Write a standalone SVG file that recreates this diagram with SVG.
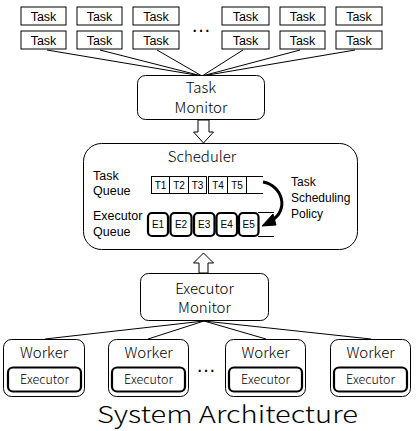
<svg xmlns="http://www.w3.org/2000/svg" width="416" height="431" viewBox="0 0 416 431">
<style>
.box{fill:#fff;stroke:#000;stroke-width:1}
.rbox{fill:#fff;stroke:#000;stroke-width:1}
.thick{fill:#fff;stroke:#000;stroke-width:2.2}
.ln{stroke:#000;stroke-width:1;fill:none}
.t{font-family:"Liberation Sans",Arial,sans-serif;font-size:12.5px;text-anchor:middle;fill:#000}
.p{font-family:"Liberation Sans",Arial,sans-serif;font-size:12px;fill:#000}
.q{font-family:"Liberation Sans",Arial,sans-serif;font-size:12.5px;fill:#000}
.dots{font-family:"Liberation Sans",Arial,sans-serif;font-size:20px;text-anchor:middle;fill:#000}
.s{font-family:"Liberation Sans",Arial,sans-serif;font-size:10px;text-anchor:middle;fill:#000}
.y{font-family:"Noto Sans CJK SC","Noto Sans",sans-serif;font-weight:300;fill:#000}
</style>
<g id="connectors">
<line class="ln" x1="47" y1="50" x2="202" y2="76"/>
<line class="ln" x1="100" y1="50" x2="202" y2="76"/>
<line class="ln" x1="157" y1="50" x2="202" y2="76"/>
<line class="ln" x1="243" y1="50" x2="202" y2="76"/>
<line class="ln" x1="300" y1="50" x2="202" y2="76"/>
<line class="ln" x1="355" y1="50" x2="202" y2="76"/>
<line class="ln" x1="204" y1="321" x2="45" y2="339"/>
<line class="ln" x1="204" y1="321" x2="148" y2="339"/>
<line class="ln" x1="204" y1="321" x2="266" y2="339"/>
<line class="ln" x1="204" y1="321" x2="371" y2="339"/>
<path class="ln" d="M198,120 V132 H193.5 L203.5,143 L213.5,132 H209 V120 Z" fill="#fff"/>
<path class="ln" d="M199,273 V263 H193.5 L203.5,253 L213.5,263 H208 V273 Z" fill="#fff"/>
</g>
<g id="tasks">
<rect class="box" x="21" y="7" width="45" height="18"/><text class="t" x="43.5" y="21">Task</text>
<rect class="box" x="77" y="7" width="45" height="18"/><text class="t" x="99.5" y="21">Task</text>
<rect class="box" x="133" y="7" width="46" height="18"/><text class="t" x="156" y="21">Task</text>
<rect class="box" x="222" y="7" width="47" height="18"/><text class="t" x="245.5" y="21">Task</text>
<rect class="box" x="280" y="7" width="45" height="18"/><text class="t" x="302.5" y="21">Task</text>
<rect class="box" x="336" y="7" width="46" height="18"/><text class="t" x="359" y="21">Task</text>
<rect class="box" x="21" y="31" width="45" height="18"/><text class="t" x="43.5" y="45">Task</text>
<rect class="box" x="77" y="31" width="45" height="18"/><text class="t" x="99.5" y="45">Task</text>
<rect class="box" x="133" y="31" width="46" height="18"/><text class="t" x="156" y="45">Task</text>
<rect class="box" x="222" y="31" width="47" height="18"/><text class="t" x="245.5" y="45">Task</text>
<rect class="box" x="280" y="31" width="45" height="18"/><text class="t" x="302.5" y="45">Task</text>
<rect class="box" x="336" y="31" width="46" height="18"/><text class="t" x="359" y="45">Task</text>
<text class="dots" x="201" y="32">…</text>
</g>
<g id="task-monitor">
<rect class="rbox" x="137.5" y="75.5" width="127" height="44" rx="8"/>
<text class="y" font-size="15" text-anchor="middle"><tspan x="201" y="93">Task</tspan><tspan x="201" y="113">Monitor</tspan></text>
</g>
<g id="scheduler">
<rect class="rbox" x="83.5" y="143.5" width="274" height="106" rx="18"/>
<text class="y" x="202" y="162" font-size="15" text-anchor="middle">Scheduler</text>
<text class="q"><tspan x="93" y="180">Task</tspan><tspan x="93" y="195">Queue</tspan></text>
<text class="q"><tspan x="93" y="220">Executor</tspan><tspan x="93" y="236">Queue</tspan></text>
<g id="task-queue">
<rect class="box" x="151.5" y="176.5" width="18" height="17"/><text class="s" x="160.5" y="189">T1</text>
<rect class="box" x="169.5" y="176.5" width="19" height="17"/><text class="s" x="179" y="189">T2</text>
<rect class="box" x="188.5" y="176.5" width="18" height="17"/><text class="s" x="197.5" y="189">T3</text>
<rect class="box" x="208.5" y="176.5" width="19" height="17"/><text class="s" x="218" y="189">T4</text>
<rect class="box" x="227.5" y="176.5" width="19" height="17"/><text class="s" x="237" y="189">T5</text>
<line class="ln" x1="246.5" y1="176.5" x2="263" y2="176.5"/>
<line class="ln" x1="246.5" y1="193.5" x2="263" y2="193.5"/>
</g>
<g id="executor-queue">
<rect class="thick" x="148" y="213" width="20" height="23" rx="4"/><text class="s" x="158" y="228">E1</text>
<rect class="thick" x="170.5" y="213" width="21" height="23" rx="4"/><text class="s" x="181" y="228">E2</text>
<rect class="thick" x="194" y="213" width="20.5" height="23" rx="4"/><text class="s" x="204.2" y="228">E3</text>
<rect class="thick" x="216.5" y="213" width="20.5" height="23" rx="4"/><text class="s" x="226.7" y="228">E4</text>
<rect class="thick" x="239" y="213" width="19.5" height="23" rx="4"/><text class="s" x="248.7" y="228">E5</text>
<line class="ln" x1="258" y1="212.5" x2="274" y2="212.5"/>
<line class="ln" x1="258" y1="236.5" x2="274" y2="236.5"/>
</g>
<path d="M263,182 C282,185 290,210 271,221" fill="none" stroke="#000" stroke-width="3"/>
<path d="M262,226 L273,214 L276,225 Z" fill="#000" stroke="#000" stroke-width="1"/>
<text class="p"><tspan x="291" y="186">Task</tspan><tspan x="291" y="202">Scheduling</tspan><tspan x="291" y="218">Policy</tspan></text>
</g>
<g id="executor-monitor">
<rect class="rbox" x="140.5" y="273.5" width="128" height="47" rx="8"/>
<text class="y" font-size="15" text-anchor="middle"><tspan x="204.5" y="294">Executor</tspan><tspan x="204.5" y="313">Monitor</tspan></text>
</g>
<g id="worker1">
<rect class="rbox" x="3.5" y="339.5" width="81" height="57" rx="8"/>
<text class="y" x="44" y="358" font-size="15" text-anchor="middle">Worker</text>
<rect class="thick" x="8" y="367.5" width="73" height="24" rx="5"/>
<text class="y" x="44.5" y="384" font-size="12.5" text-anchor="middle">Executor</text>
</g>
<g id="worker2">
<rect class="rbox" x="108.5" y="339.5" width="80" height="57" rx="8"/>
<text class="y" x="148.5" y="358" font-size="15" text-anchor="middle">Worker</text>
<rect class="thick" x="112" y="367.5" width="73" height="24" rx="5"/>
<text class="y" x="148.5" y="384" font-size="12.5" text-anchor="middle">Executor</text>
</g>
<text class="dots" x="206" y="372">…</text>
<g id="worker3">
<rect class="rbox" x="225.5" y="339.5" width="80" height="57" rx="8"/>
<text class="y" x="265.5" y="358" font-size="15" text-anchor="middle">Worker</text>
<rect class="thick" x="229" y="367.5" width="73" height="24" rx="5"/>
<text class="y" x="265.5" y="384" font-size="12.5" text-anchor="middle">Executor</text>
</g>
<g id="worker4">
<rect class="rbox" x="330.5" y="339.5" width="80" height="57" rx="8"/>
<text class="y" x="370.5" y="358" font-size="15" text-anchor="middle">Worker</text>
<rect class="thick" x="334" y="367.5" width="73" height="24" rx="5"/>
<text class="y" x="370.5" y="384" font-size="12.5" text-anchor="middle">Executor</text>
</g>
<text class="y" x="97" y="423" font-size="23" textLength="261" lengthAdjust="spacingAndGlyphs">System Architecture</text>
</svg>
